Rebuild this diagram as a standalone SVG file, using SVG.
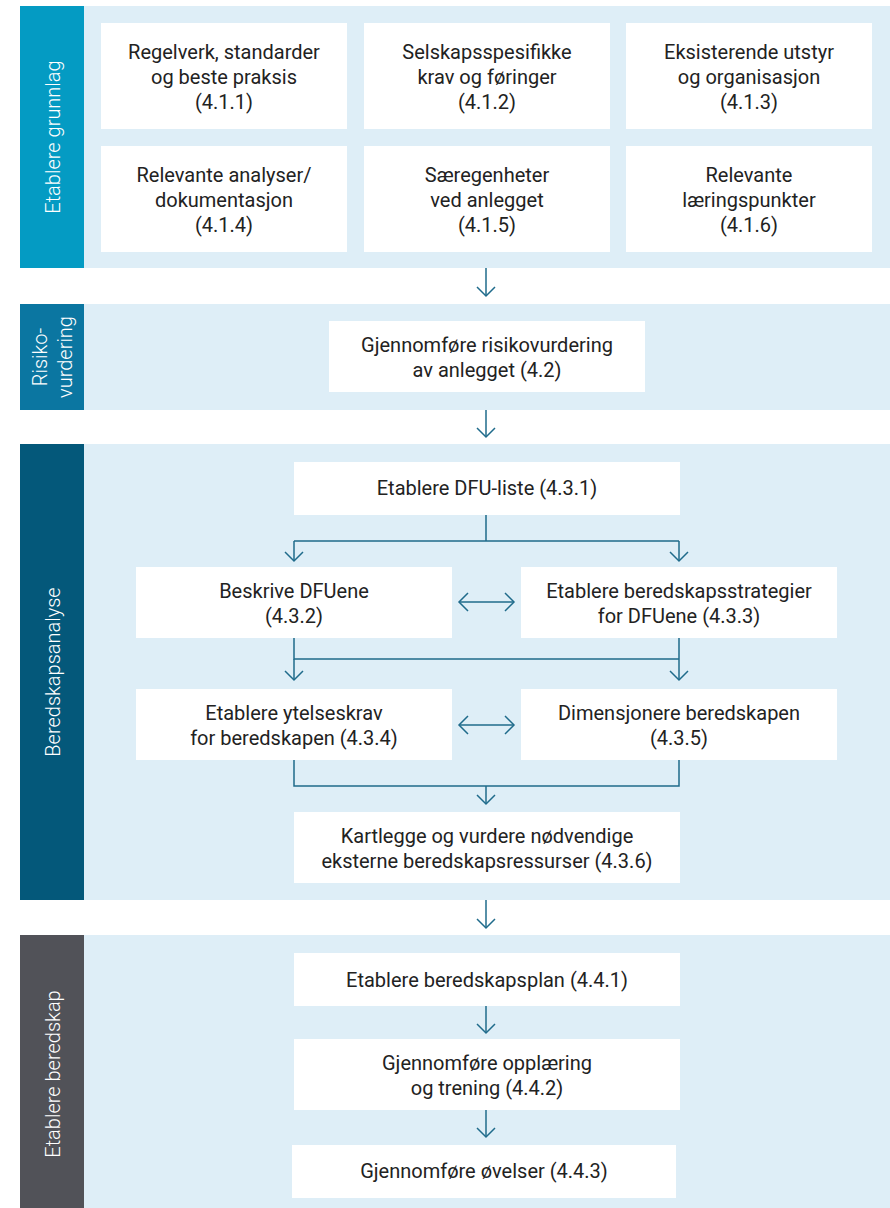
<svg xmlns="http://www.w3.org/2000/svg" width="890" height="1208" viewBox="0 0 890 1208">
<defs>
<style>
.panel{fill:#deeef7}
.box{fill:#ffffff}
.t{font-family:Roboto,"Liberation Sans",sans-serif;font-size:20px;fill:#222222;text-anchor:middle}
.lbl{font-family:Roboto,"Liberation Sans",sans-serif;font-size:20px;font-weight:300;fill:#ffffff;text-anchor:middle}
.c{fill:none;stroke:#1f6b8b;stroke-width:1.5}
.a{fill:none;stroke:#1f6b8b;stroke-width:1.5;marker-end:url(#ah)}
.d{fill:none;stroke:#1f6b8b;stroke-width:1.5;marker-end:url(#ah);marker-start:url(#ahs)}
</style>
<marker id="ah" markerUnits="userSpaceOnUse" viewBox="-11 -11 13 22" refX="0" refY="0" markerWidth="13" markerHeight="22" orient="auto">
<path d="M-9,-9 L0,0 L-9,9" fill="none" stroke="#1f6b8b" stroke-width="1.5"/>
</marker>
<marker id="ahs" markerUnits="userSpaceOnUse" viewBox="-11 -11 13 22" refX="0" refY="0" markerWidth="13" markerHeight="22" orient="auto-start-reverse">
<path d="M-9,-9 L0,0 L-9,9" fill="none" stroke="#1f6b8b" stroke-width="1.5"/>
</marker>
</defs>
<rect width="890" height="1208" fill="#ffffff"/>

<g id="section-grunnlag">
<rect class="panel" x="20" y="6" width="870" height="262"/>
<rect x="20" y="6" width="64" height="262" fill="#049bc3"/>
<text class="lbl" transform="translate(60,137) rotate(-90)">Etablere grunnlag</text>
</g>
<g id="section-risiko">
<rect class="panel" x="20" y="304" width="870" height="106"/>
<rect x="20" y="304" width="64" height="106" fill="#0b76a1"/>
<text class="lbl" transform="translate(47,357) rotate(-90)">Risiko-</text>
<text class="lbl" transform="translate(72,357) rotate(-90)">vurdering</text>
</g>
<g id="section-analyse">
<rect class="panel" x="20" y="444" width="870" height="456"/>
<rect x="20" y="444" width="64" height="456" fill="#04587a"/>
<text class="lbl" transform="translate(60,672) rotate(-90)">Beredskapsanalyse</text>
</g>
<g id="section-beredskap">
<rect class="panel" x="20" y="935" width="870" height="273"/>
<rect x="20" y="935" width="64" height="273" fill="#515258"/>
<text class="lbl" transform="translate(60,1074) rotate(-90)">Etablere beredskap</text>
</g>

<g id="n411"><rect class="box" x="101" y="23" width="246" height="106"/>
<text class="t" x="224" y="59">Regelverk, standarder</text><text class="t" x="224" y="84">og beste praksis</text><text class="t" x="224" y="109">(4.1.1)</text></g>
<g id="n412"><rect class="box" x="364" y="23" width="246" height="106"/>
<text class="t" x="487" y="59">Selskapsspesifikke</text><text class="t" x="487" y="84">krav og føringer</text><text class="t" x="487" y="109">(4.1.2)</text></g>
<g id="n413"><rect class="box" x="626" y="23" width="246" height="106"/>
<text class="t" x="749" y="59">Eksisterende utstyr</text><text class="t" x="749" y="84">og organisasjon</text><text class="t" x="749" y="109">(4.1.3)</text></g>
<g id="n414"><rect class="box" x="101" y="146" width="246" height="106"/>
<text class="t" x="224" y="182">Relevante analyser/</text><text class="t" x="224" y="207">dokumentasjon</text><text class="t" x="224" y="232">(4.1.4)</text></g>
<g id="n415"><rect class="box" x="364" y="146" width="246" height="106"/>
<text class="t" x="487" y="182">Særegenheter</text><text class="t" x="487" y="207">ved anlegget</text><text class="t" x="487" y="232">(4.1.5)</text></g>
<g id="n416"><rect class="box" x="626" y="146" width="246" height="106"/>
<text class="t" x="749" y="182">Relevante</text><text class="t" x="749" y="207">læringspunkter</text><text class="t" x="749" y="232">(4.1.6)</text></g>

<g id="n42"><rect class="box" x="329" y="321" width="316" height="71"/>
<text class="t" x="487" y="352">Gjennomføre risikovurdering</text><text class="t" x="487" y="377">av anlegget (4.2)</text></g>

<g id="n431"><rect class="box" x="294" y="462" width="386" height="53"/>
<text class="t" x="487" y="495">Etablere DFU-liste (4.3.1)</text></g>
<g id="n432"><rect class="box" x="136" y="567" width="316" height="71"/>
<text class="t" x="294" y="598">Beskrive DFUene</text><text class="t" x="294" y="623">(4.3.2)</text></g>
<g id="n433"><rect class="box" x="521" y="567" width="316" height="71"/>
<text class="t" x="679" y="598">Etablere beredskapsstrategier</text><text class="t" x="679" y="623">for DFUene (4.3.3)</text></g>
<g id="n434"><rect class="box" x="136" y="689" width="316" height="71"/>
<text class="t" x="294" y="720">Etablere ytelseskrav</text><text class="t" x="294" y="745">for beredskapen (4.3.4)</text></g>
<g id="n435"><rect class="box" x="521" y="689" width="316" height="71"/>
<text class="t" x="679" y="720">Dimensjonere beredskapen</text><text class="t" x="679" y="745">(4.3.5)</text></g>
<g id="n436"><rect class="box" x="294" y="812" width="386" height="71"/>
<text class="t" x="487" y="843">Kartlegge og vurdere nødvendige</text><text class="t" x="487" y="868">eksterne beredskapsressurser (4.3.6)</text></g>

<g id="n441"><rect class="box" x="294" y="953" width="386" height="53"/>
<text class="t" x="487" y="987">Etablere beredskapsplan (4.4.1)</text></g>
<g id="n442"><rect class="box" x="294" y="1039" width="386" height="71"/>
<text class="t" x="487" y="1070">Gjennomføre opplæring</text><text class="t" x="487" y="1095">og trening (4.4.2)</text></g>
<g id="n443"><rect class="box" x="292" y="1145" width="384" height="53"/>
<text class="t" x="484" y="1178">Gjennomføre øvelser (4.4.3)</text></g>

<g id="connectors">
<path class="a" d="M486,268 V296"/>
<path class="a" d="M486,410 V437"/>
<path class="c" d="M486,515 V541 M294,541 H679"/>
<path class="a" d="M294,541 V561"/>
<path class="a" d="M679,541 V561"/>
<path class="d" d="M459,602 H514"/>
<path class="c" d="M294,638 V659 H679 M679,638 V659"/>
<path class="a" d="M294,659 V680"/>
<path class="a" d="M679,659 V680"/>
<path class="d" d="M459,725 H514"/>
<path class="c" d="M294,760 V786 H679 V760"/>
<path class="a" d="M486,786 V804"/>
<path class="a" d="M486,900 V928"/>
<path class="a" d="M486,1006 V1033"/>
<path class="a" d="M486,1110 V1137"/>
</g>
</svg>
